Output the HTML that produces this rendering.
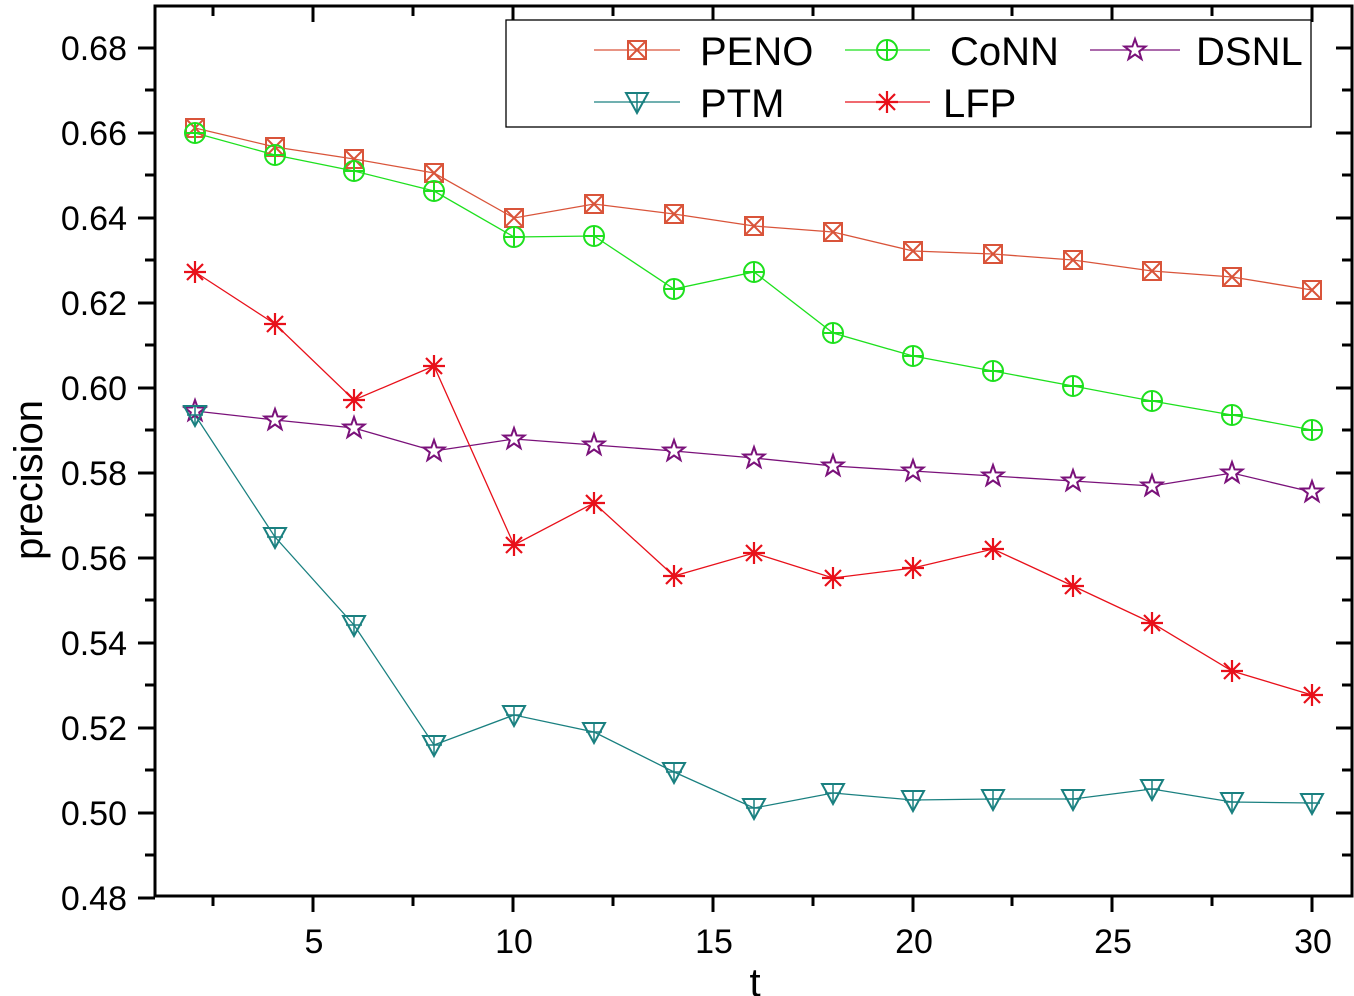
<!DOCTYPE html><html><head><style>body{margin:0;background:#fff}svg{display:block}</style></head><body>
<svg width="1354" height="996" xmlns="http://www.w3.org/2000/svg" font-family="Liberation Sans, sans-serif">
<defs>
<g id="sq"><rect x="-9" y="-9" width="18" height="18" fill="none" stroke="#d9543a" stroke-width="2"/><path d="M-9,-9L9,9M9,-9L-9,9" stroke="#d9543a" stroke-width="2"/></g>
<g id="ci"><circle r="10" fill="none" stroke="#1ee01e" stroke-width="2"/><path d="M-10,0H10M0,-10V10" stroke="#1ee01e" stroke-width="2"/></g>
<g id="st"><path d="M0,-11L2.6,-3.6L10.5,-3.4L4.2,1.4L6.5,9L0,4.5L-6.5,9L-4.2,1.4L-10.5,-3.4L-2.6,-3.6Z" fill="#fff" stroke="#7a117a" stroke-width="2"/></g>
<g id="tr"><path d="M-11,-9H11L0,11Z" fill="none" stroke="#1a8080" stroke-width="2"/><path d="M0,-9V11M-8,0H8" stroke="#1a8080" stroke-width="1.5"/></g>
<g id="as"><path d="M-11,0H11M0,-11V11M-8,-8L8,8M8,-8L-8,8" stroke="#e8101a" stroke-width="2.2"/></g>
</defs>
<g stroke="#000" stroke-width="3" fill="none">
<rect x="155" y="6" width="1197" height="890"/>
</g>
<g stroke="#000" stroke-width="3">
<path d="M313,896v16M513,896v16M713,896v16M913,896v16M1112,896v16M1312,896v16"/>
<path d="M213,896v10M413,896v10M613,896v10M813,896v10M1012,896v10M1212,896v10"/>
<path d="M313,6v16M513,6v16M713,6v16M913,6v16M1112,6v16M1312,6v16M213,6v10M413,6v10M613,6v10M813,6v10M1012,6v10M1212,6v10"/>
<path d="M138,48h17M138,133h17M138,218h17M138,303h17M138,388h17M138,473h17M138,558h17M138,643h17M138,728h17M138,813h17M138,898h17"/>
<path d="M145,90h10M145,175h10M145,260h10M145,345h10M145,430h10M145,515h10M145,600h10M145,685h10M145,770h10M145,855h10"/>
<path d="M1336,48h16M1336,133h16M1336,218h16M1336,303h16M1336,388h16M1336,473h16M1336,558h16M1336,643h16M1336,728h16M1336,813h16M1342,90h10M1342,175h10M1342,260h10M1342,345h10M1342,430h10M1342,515h10M1342,600h10M1342,685h10M1342,770h10M1342,855h10"/>
</g>
<g font-size="34" text-anchor="end">
<text x="127" y="60">0.68</text><text x="127" y="145">0.66</text><text x="127" y="230">0.64</text><text x="127" y="315">0.62</text><text x="127" y="400">0.60</text><text x="127" y="485">0.58</text><text x="127" y="570">0.56</text><text x="127" y="655">0.54</text><text x="127" y="740">0.52</text><text x="127" y="825">0.50</text><text x="127" y="910">0.48</text>
</g>
<g font-size="34" text-anchor="middle">
<text x="314" y="953">5</text><text x="514" y="953">10</text><text x="714" y="953">15</text><text x="914" y="953">20</text><text x="1113" y="953">25</text><text x="1313" y="953">30</text>
</g>
<text x="755" y="996" font-size="40" text-anchor="middle">t</text>
<text transform="translate(42,480) rotate(-90)" font-size="40" text-anchor="middle">precision</text>
<g fill="none" stroke-width="1.3">
<polyline stroke="#d9543a" points="195,128 275,147 354,159 434,173 514,218 594,204 674,214 754,226 833,232 913,251 993,254 1073,260 1152,271 1232,277 1312,290"/>
<polyline stroke="#1ee01e" points="195,133 275,155 354,171 434,191 514,237 594,236 674,289 754,272 833,333 913,356 993,371 1073,386 1152,401 1232,415 1312,430"/>
<polyline stroke="#7a117a" points="195,411 275,420 354,428 434,451 514,439 594,445 674,451 754,458 833,466 913,471 993,476 1073,481 1152,486 1232,473 1312,492"/>
<polyline stroke="#1a8080" points="195,415 275,537 354,625 434,745 514,715 594,732 674,772 754,808 833,793 913,800 993,799 1073,799 1152,789 1232,802 1312,803"/>
<polyline stroke="#e8101a" points="195,272 275,324 354,400 434,366 514,545 594,503 674,576 754,553 833,578 913,568 993,549 1073,586 1152,623 1232,671 1312,695"/>
</g>
<g>
<use href="#sq" x="195" y="128"/><use href="#sq" x="275" y="147"/><use href="#sq" x="354" y="159"/><use href="#sq" x="434" y="173"/><use href="#sq" x="514" y="218"/><use href="#sq" x="594" y="204"/><use href="#sq" x="674" y="214"/><use href="#sq" x="754" y="226"/><use href="#sq" x="833" y="232"/><use href="#sq" x="913" y="251"/><use href="#sq" x="993" y="254"/><use href="#sq" x="1073" y="260"/><use href="#sq" x="1152" y="271"/><use href="#sq" x="1232" y="277"/><use href="#sq" x="1312" y="290"/>
<use href="#ci" x="195" y="133"/><use href="#ci" x="275" y="155"/><use href="#ci" x="354" y="171"/><use href="#ci" x="434" y="191"/><use href="#ci" x="514" y="237"/><use href="#ci" x="594" y="236"/><use href="#ci" x="674" y="289"/><use href="#ci" x="754" y="272"/><use href="#ci" x="833" y="333"/><use href="#ci" x="913" y="356"/><use href="#ci" x="993" y="371"/><use href="#ci" x="1073" y="386"/><use href="#ci" x="1152" y="401"/><use href="#ci" x="1232" y="415"/><use href="#ci" x="1312" y="430"/>
<use href="#st" x="195" y="411"/><use href="#st" x="275" y="420"/><use href="#st" x="354" y="428"/><use href="#st" x="434" y="451"/><use href="#st" x="514" y="439"/><use href="#st" x="594" y="445"/><use href="#st" x="674" y="451"/><use href="#st" x="754" y="458"/><use href="#st" x="833" y="466"/><use href="#st" x="913" y="471"/><use href="#st" x="993" y="476"/><use href="#st" x="1073" y="481"/><use href="#st" x="1152" y="486"/><use href="#st" x="1232" y="473"/><use href="#st" x="1312" y="492"/>
<use href="#tr" x="195" y="415"/><use href="#tr" x="275" y="537"/><use href="#tr" x="354" y="625"/><use href="#tr" x="434" y="745"/><use href="#tr" x="514" y="715"/><use href="#tr" x="594" y="732"/><use href="#tr" x="674" y="772"/><use href="#tr" x="754" y="808"/><use href="#tr" x="833" y="793"/><use href="#tr" x="913" y="800"/><use href="#tr" x="993" y="799"/><use href="#tr" x="1073" y="799"/><use href="#tr" x="1152" y="789"/><use href="#tr" x="1232" y="802"/><use href="#tr" x="1312" y="803"/>
<use href="#as" x="195" y="272"/><use href="#as" x="275" y="324"/><use href="#as" x="354" y="400"/><use href="#as" x="434" y="366"/><use href="#as" x="514" y="545"/><use href="#as" x="594" y="503"/><use href="#as" x="674" y="576"/><use href="#as" x="754" y="553"/><use href="#as" x="833" y="578"/><use href="#as" x="913" y="568"/><use href="#as" x="993" y="549"/><use href="#as" x="1073" y="586"/><use href="#as" x="1152" y="623"/><use href="#as" x="1232" y="671"/><use href="#as" x="1312" y="695"/>
</g>
<rect x="506" y="20" width="805" height="107" fill="#fff" stroke="#000" stroke-width="1.3"/>
<g stroke-width="1.3">
<path d="M594,50H680" stroke="#d9543a"/><path d="M845,50H930" stroke="#1ee01e"/><path d="M1090,50H1180" stroke="#7a117a"/>
<path d="M594,102H680" stroke="#1a8080"/><path d="M845,102H930" stroke="#e8101a"/>
</g>
<use href="#sq" x="637" y="50"/><use href="#ci" x="887" y="50"/><use href="#st" x="1135" y="50"/><use href="#tr" x="637" y="102"/><use href="#as" x="887" y="102"/>
<g font-size="40">
<text x="700" y="65">PENO</text><text x="950" y="65">CoNN</text><text x="1196" y="65">DSNL</text>
<text x="700" y="117">PTM</text><text x="943" y="117">LFP</text>
</g>
</svg>
</body></html>
